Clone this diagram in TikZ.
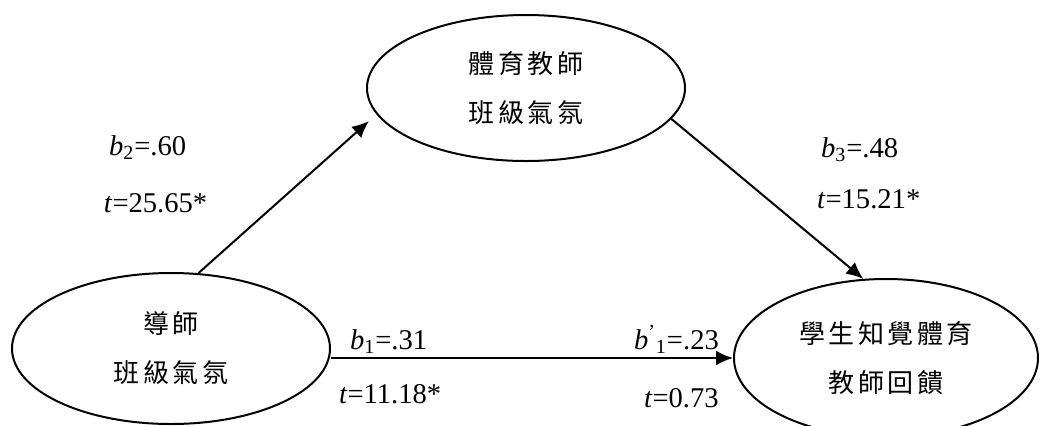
\documentclass[tikz,border=0pt]{standalone}
\usepackage{fontspec}
\setmainfont{Liberation Serif}
\newfontfamily\cjk[LetterSpace=13.5]{Noto Sans CJK TC}
\usetikzlibrary{arrows.meta,shapes.geometric}

\begin{document}
\begin{tikzpicture}[x=0.5pt,y=-0.5pt,line width=1pt,
  ell/.style={ellipse,draw,inner sep=0pt,align=center,
    font=\cjk\fontsize{13}{24.5}\selectfont},
  link/.style={-{Latex[length=8.5pt,width=7.5pt]}},
  coef/.style={anchor=base west,inner sep=0pt,
    font=\fontsize{14.3}{17}\selectfont}]
  \useasboundingbox (0,0) rectangle (1041,425);
  %draw the three constructs
  \node [ell,minimum width=159pt,minimum height=75.5pt] (homeroom) at (171,348.5)
    {導師\\班級氣氛};
  \node [ell,minimum width=159pt,minimum height=73pt] (peclass) at (526,88)
    {體育教師\\班級氣氛};
  \node [ell,minimum width=152pt,minimum height=79pt] (feedback) at (886,358)
    {學生知覺體育\\教師回饋};
  %draw the paths
  \draw [link,shorten >=5pt] (homeroom.70) -- (peclass.190);
  \draw [link] (peclass.-12) -- (feedback.106);
  \draw [link] (homeroom.east |- feedback.west) -- (feedback.west);
  %path coefficients
  \node [coef] (b2) at (108,155) {\textit{b}\textsubscript{2}=.60};
  \node [coef] (t2) at (103,212) {\textit{t}=25.65*};
  \node [coef] (b3) at (820,157) {\textit{b}\textsubscript{3}=.48};
  \node [coef] (t3) at (816,208) {\textit{t}=15.21*};
  \node [coef] (b1) at (349,349) {\textit{b}\textsubscript{1}=.31};
  \node [coef] (t1) at (338,403) {\textit{t}=11.18*};
  \node [coef] (b1p) at (633,349) {\textit{b}\textsuperscript{'}\textsubscript{1}=.23};
  \node [coef] (t1p) at (643,407) {\textit{t}=0.73};
\end{tikzpicture}
\end{document}
